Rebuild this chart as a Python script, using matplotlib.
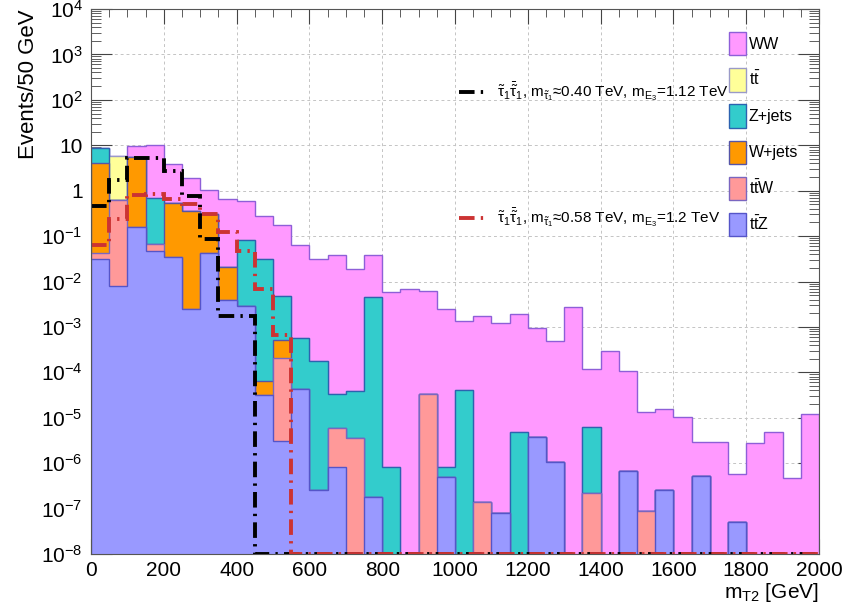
import numpy as np
import matplotlib
matplotlib.use("Agg")
import matplotlib.pyplot as plt
from matplotlib.lines import Line2D
from matplotlib.patches import Patch
from matplotlib.ticker import LogLocator, FuncFormatter, MultipleLocator

plt.rcParams['font.family'] = ['Liberation Sans', 'DejaVu Sans']
plt.rcParams['mathtext.fontset'] = 'custom'
plt.rcParams['mathtext.rm'] = 'Liberation Sans'
plt.rcParams['mathtext.it'] = 'Liberation Sans'
plt.rcParams['mathtext.bf'] = 'Liberation Sans:bold'

# binning m_T2, 50 GeV
edges = np.arange(0, 2050, 50)

# backgrounds (events per bin), stacked bottom -> top
ttz = [0.031, 0.0079, 0.155, 0.048, 0.0355, 0.0025, 0.042, 0.0040, 0.0029, 3.15e-5,
       3.1e-6, 4.3e-5, 2.6e-7, 8.3e-7, 0, 1.8e-7, 0, 0, 0, 5.0e-7,
       0, 0, 7.8e-8, 0, 3.8e-6, 1.07e-6, 0, 0, 0, 6.6e-7,
       0, 2.6e-7, 0, 5.1e-7, 0, 5.0e-8, 0, 0, 0, 0]
ttw = [0.0125, 0.608, 0, 0.019, 0, 0, 0, 0, 0, 0,
       2.05e-4, 0, 0, 5.0e-6, 3.6e-6, 0, 0, 0, 3.3e-5, 0,
       0, 1.4e-7, 0, 0, 0, 0, 0, 2.2e-7, 0, 0,
       9e-8, 0, 0, 0, 0, 0, 0, 0, 0, 0]
wjets = [4.12, 0, 5.38, 0, 0.50, 0.35, 0.272, 0.017, 0, 3.16e-5,
         3.04e-4, 0, 0, 0, 0, 0, 0, 0, 0, 0,
         0, 0, 0, 0, 0, 0, 0, 0, 0, 0,
         0, 0, 0, 0, 0, 0, 0, 0, 0, 0]
zjets = [4.73, 0, 0, 0.639, 0, 0, 0, 0, 0.078, 0.031,
         4.32e-3, 5.14e-4, 1.79e-4, 2.68e-5, 3.5e-5, 4.45e-3, 8.1e-7, 0, 0, 3.1e-7,
         4.1e-5, 0, 0, 4.9e-6, 0, 0, 0, 6.1e-6, 0, 0,
         0, 0, 0, 0, 0, 0, 0, 0, 0, 0]
ttbar = [0, 5.2, 0, 0, 0, 0, 0, 0, 0, 0,
         0, 0, 0, 0, 0, 0, 0, 0, 0, 0,
         0, 0, 0, 0, 0, 0, 0, 0, 0, 0,
         0, 0, 0, 0, 0, 0, 0, 0, 0, 0]
ww = [0, 0, 3.97, 9.65, 3.41, 1.56, 0.71, 0.65, 0.505, 0.239,
      0.175, 0.0624, 0.0319, 0.038, 0.0184, 0.0335, 6.0e-3, 7.0e-3, 6.0e-3, 2.54e-3,
      1.32e-3, 1.75e-3, 1.23e-3, 1.88e-3, 9.66e-4, 4.85e-4, 2.76e-3, 1.11e-4, 2.88e-4, 1.04e-4,
      1.30e-5, 1.5e-5, 1.02e-5, 2.45e-6, 2.96e-6, 5.2e-7, 2.81e-6, 4.75e-6, 4.6e-7, 1.2e-5]

# signals
sig1 = [0.455, 1.76, 5.26, 5.26, 2.68, 0.767, 0.0883, 1.75e-3, 1.75e-3] + [0] * 31
sig2 = [0.065, 0.232, 0.794, 0.835, 0.671, 0.521, 0.303, 0.124, 0.0465, 0.0070, 6.6e-4] + [0] * 29

bkg = [
    (ttz, r'$\mathrm{t\bar{t}Z}$', '#9999ff', '#5555c8'),
    (ttw, r'$\mathrm{t\bar{t}W}$', '#ff9999', '#7a66c0'),
    (wjets, 'W+jets', '#ff9900', '#5555a8'),
    (zjets, 'Z+jets', '#33cccc', '#2d62b0'),
    (ttbar, r'$\mathrm{t\bar{t}}$', '#ffff99', '#9a9ac8'),
    (ww, 'WW', '#ff99ff', '#8e5fd8'),
]

fig = plt.figure(figsize=(8.43, 6.10), dpi=100)
ax = fig.add_axes([91 / 843, 1 - 554 / 610, 728 / 843, 545 / 610])

floor = 1e-12
cum = np.cumsum([np.asarray(b[0], dtype=float) for b in bkg], axis=0)
# draw like THStack: highest cumulative first, each from the bottom
for i in range(len(bkg) - 1, -1, -1):
    vals, lab, fc, ec = bkg[i]
    ax.stairs(np.maximum(cum[i], floor), edges, baseline=floor, fill=True,
              facecolor=fc, edgecolor=ec, linewidth=1.0, zorder=2)

ymin = 1e-8
s1 = np.where(np.asarray(sig1) > 0, sig1, ymin)
s2 = np.where(np.asarray(sig2) > 0, sig2, ymin)
ls1 = (0, (4.0, 1.6, 0.6, 1.6))
ls2 = (0, (4.0, 1.6, 0.6, 1.6))
ax.stairs(s1, edges, baseline=None, color='black', linewidth=2.8, linestyle=ls1, zorder=4)
ax.stairs(s2, edges, baseline=None, color='#cc3333', linewidth=2.8, linestyle=ls2, zorder=5)

ax.set_xlim(0, 2000)
ax.set_yscale('log')
ax.set_ylim(1e-8, 1e4)

def ylab(v, pos):
    e = int(round(np.log10(v)))
    if e == 0:
        return '1'
    if e == 1:
        return '10'
    return r'$10^{%d}$' % e

ax.yaxis.set_major_locator(LogLocator(base=10, numticks=20))
ax.yaxis.set_minor_locator(LogLocator(base=10, subs=np.arange(2, 10), numticks=200))
ax.yaxis.set_major_formatter(FuncFormatter(ylab))
ax.xaxis.set_major_locator(MultipleLocator(200))
ax.xaxis.set_minor_locator(MultipleLocator(50))

ax.tick_params(which='both', direction='in', top=True, right=True, labelsize=15, color='#444444')
ax.tick_params(axis='y', which='major', length=15, pad=6)
ax.tick_params(axis='y', which='minor', length=7.5)
ax.tick_params(axis='x', which='major', length=11, pad=5)
ax.tick_params(axis='x', which='minor', length=5.5)

ax.set_axisbelow(True)
ax.grid(True, which='major', linestyle=(0, (3, 3)), color='#c4c4c4', linewidth=0.7)
for sp in ax.spines.values():
    sp.set_color('#555555')
    sp.set_zorder(6)

ax.set_xlabel(r'm$_{\mathrm{T2}}$ [GeV]', fontsize=15, loc='right', labelpad=1)
ax.set_ylabel('Events/50 GeV', fontsize=16, loc='top')
ax.yaxis.set_label_coords(-0.072, 1.0)

# background legend
handles = [Patch(facecolor=b[2], edgecolor=b[3], linewidth=1.0) for b in bkg[::-1]]
labels = [b[1] for b in bkg[::-1]]
leg = ax.legend(handles, labels, loc='upper left', bbox_to_anchor=(729 / 843, 1 - 32 / 610),
                bbox_transform=fig.transFigure, frameon=False, fontsize=11.5, borderpad=0,
                borderaxespad=0, handlelength=1.05, handleheight=1.88, labelspacing=0.8,
                handletextpad=0.2)
ax.add_artist(leg)

# signal legends
lab1 = r'$\tilde{\tau}_1\bar{\tilde{\tau}}_1$, m$_{\tilde{\tau}_1}$≈0.40 TeV, m$_{\mathrm{E_3}}$=1.12 TeV'
lab2 = r'$\tilde{\tau}_1\bar{\tilde{\tau}}_1$, m$_{\tilde{\tau}_1}$≈0.58 TeV, m$_{\mathrm{E_3}}$=1.2 TeV'
h1 = Line2D([], [], color='black', linewidth=2.8, linestyle=ls1)
h2 = Line2D([], [], color='#cc3333', linewidth=2.8, linestyle=ls2)
leg1 = ax.legend([h1], [lab1], loc='center left', bbox_to_anchor=(459 / 843, 1 - 92 / 610),
                 bbox_transform=fig.transFigure, frameon=False, fontsize=11, borderpad=0,
                 borderaxespad=0, handlelength=1.95, handletextpad=0.55)
ax.add_artist(leg1)
ax.legend([h2], [lab2], loc='center left', bbox_to_anchor=(459 / 843, 1 - 218 / 610),
          bbox_transform=fig.transFigure, frameon=False, fontsize=11, borderpad=0,
          borderaxespad=0, handlelength=1.95, handletextpad=0.55)

fig.savefig('out.png', dpi=100)
